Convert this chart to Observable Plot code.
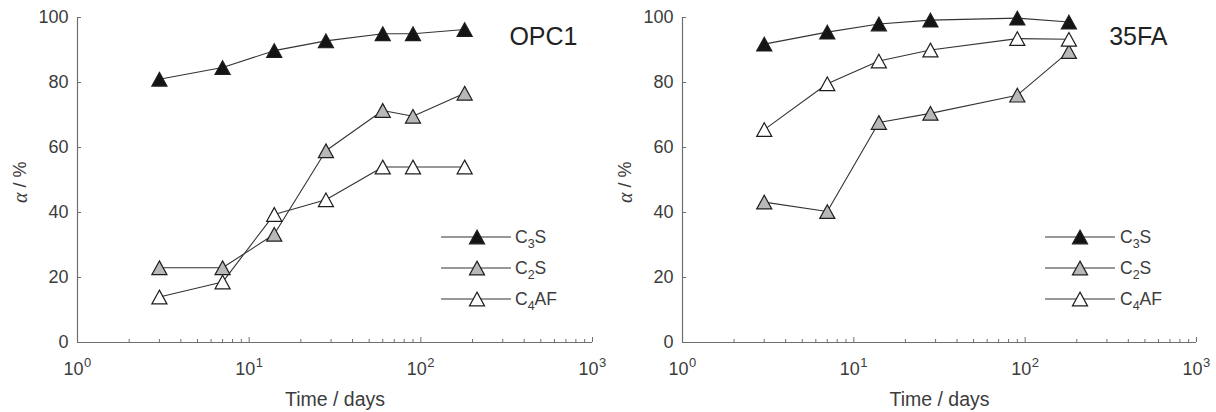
<!DOCTYPE html>
<html>
<head>
<meta charset="utf-8">
<script src="https://cdn.jsdelivr.net/npm/d3@7"></script>
<script src="https://cdn.jsdelivr.net/npm/@observablehq/plot@0.6"></script>
<style>
  html, body { margin: 0; padding: 0; background: #fff; }
  #wrap { position: relative; width: 1216px; height: 412px; display: flex; overflow: hidden; }
  #wrap svg { display: block; }
  #legend { position: absolute; left: 0; top: 0; pointer-events: none; }
</style>
</head>
<body>
<div id="wrap"></div>
<script>
// ---------- data ----------
const phases = ["C3S", "C2S", "C4AF"];
const phaseSub = { C3S: ["C", "3", "S"], C2S: ["C", "2", "S"], C4AF: ["C", "4", "AF"] };

// OPC1 panel
const opcDays = [3, 7, 14, 28, 60, 90, 180];
const opcC3S  = [81.0, 84.6, 89.8, 92.8, 95.0, 95.0, 96.3];
const opcC2S  = [23.0, 23.0, 33.3, 59.0, 71.4, 69.6, 76.7];
const opcC4AF = [14.0, 18.6, 39.4, 43.9, 54.0, 54.0, 54.0];

// 35FA panel
const faDays  = [3, 7, 14, 28, 90, 180];
const faC3S   = [91.8, 95.5, 98.0, 99.2, 99.8, 98.6];
const faC2S   = [43.2, 40.3, 67.7, 70.5, 76.1, 89.5];
const faC4AF  = [65.5, 79.6, 86.6, 90.0, 93.5, 93.3];

// axes
const xMajor = [1, 10, 100, 1000];
const xMinor = [2,3,4,5,6,7,8,9,20,30,40,50,60,70,80,90,200,300,400,500,600,700,800,900];
const yTicks = [0, 20, 40, 60, 80, 100];
const xLabel = "Time / days";
const yLabelGreek = "α";
const yLabelRest = " / %";

// ---------- style ----------
const fills = { C3S: "#141414", C2S: "#b8b8b8", C4AF: "#ffffff" };
const axisCol = "#6e6e6e";
const textCol = "#3c3c3c";
const lineCol = "#333333";
const markR = 5.8;
const font = "'Liberation Sans', Arial, Helvetica, sans-serif";

// triangle symbol centred on its bounding box
const tri = {
  draw(ctx, size) {
    const r = Math.sqrt(size / Math.PI);
    const w = 1.3 * r, h = 1.18 * r;
    ctx.moveTo(0, -h); ctx.lineTo(w, h); ctx.lineTo(-w, h); ctx.closePath();
  }
};

function rowsOf(days, series) {
  return phases.flatMap(p => days.map((d, i) => ({ day: d, value: series[p][i], phase: p })));
}

function panel({ rows, width, marginLeft, marginRight, name, nameDx }) {
  const seriesMarks = phases.flatMap(p => {
    const sub = rows.filter(r => r.phase === p);
    return [
      Plot.line(sub, { x: "day", y: "value", stroke: lineCol, strokeWidth: 1.1 }),
    ];
  });
  const dotMarks = phases.map(p =>
    Plot.dot(rows.filter(r => r.phase === p), {
      x: "day", y: "value", symbol: tri, r: markR,
      fill: fills[p], stroke: "#1e1e1e", strokeWidth: 1.2
    })
  );
  return Plot.plot({
    width, height: 412,
    marginTop: 17, marginBottom: 70, marginLeft, marginRight,
    style: { fontFamily: font, fontSize: "18px", color: textCol, background: "transparent", overflow: "visible" },
    x: { type: "log", domain: [1, 1000] },
    y: { domain: [0, 100] },
    marks: [
      Plot.ruleX([1], { stroke: axisCol, strokeWidth: 1.2 }),
      Plot.ruleY([0], { stroke: axisCol, strokeWidth: 1.2 }),
      Plot.axisX({ ticks: xMinor, tickSize: -3, tickFormat: () => "", stroke: axisCol, label: null }),
      Plot.axisX({ ticks: xMajor, tickSize: -5, tickFormat: () => "", stroke: axisCol, label: null }),
      Plot.axisY({ ticks: yTicks, tickSize: -4, tickFormat: () => "", stroke: axisCol, label: null }),
      Plot.axisY({ ticks: yTicks, tickSize: 0, tickPadding: 9, label: null, fill: textCol }),
      // x tick labels 10^n
      Plot.text(xMajor, { x: d => d, frameAnchor: "bottom", text: () => "10", textAnchor: "end",
        lineAnchor: "top", dx: 6, dy: 20, fontSize: 18, fill: textCol }),
      Plot.text(xMajor, { x: d => d, frameAnchor: "bottom", text: d => String(Math.round(Math.log10(d))),
        textAnchor: "start", lineAnchor: "top", dx: 6.5, dy: 15, fontSize: 13, fill: textCol }),
      // axis labels
      Plot.text([xLabel], { text: d => d, frameAnchor: "bottom", lineAnchor: "top", dy: 50, fontSize: 19.5, fill: textCol }),
      Plot.text([yLabelGreek], { text: d => d, frameAnchor: "left", rotate: -90, textAnchor: "end",
        dx: -57, dy: 12.5, fontFamily: "'Liberation Serif', 'DejaVu Serif', serif", fontStyle: "italic", fontSize: 20, fill: textCol }),
      Plot.text([yLabelRest], { text: d => d, frameAnchor: "left", rotate: -90, textAnchor: "start",
        dx: -57, dy: 12.5, fontSize: 18, fill: textCol }),
      // panel name
      Plot.text([name], { text: d => d, frameAnchor: "top-right", textAnchor: "end", lineAnchor: "top",
        dx: nameDx, dy: 10, fontSize: 25, fill: "#222" }),
      ...seriesMarks,
      ...dotMarks
    ]
  });
}

const wrap = document.getElementById("wrap");
const left = panel({
  rows: rowsOf(opcDays, { C3S: opcC3S, C2S: opcC2S, C4AF: opcC4AF }),
  width: 605, marginLeft: 77, marginRight: 13, name: "OPC1", nameDx: -15
});
const right = panel({
  rows: rowsOf(faDays, { C3S: faC3S, C2S: faC2S, C4AF: faC4AF }),
  width: 611, marginLeft: 77, marginRight: 20, name: "35FA", nameDx: -29
});
wrap.appendChild(left);
wrap.appendChild(right);

// ---------- legends ----------
const lg = d3.select(wrap).append("svg").attr("id", "legend").attr("width", 1216).attr("height", 412);
const triPath = d3.symbol().type(tri).size(Math.PI * markR * markR)();
const legendSpecs = [ { x0: 441, x1: 511, xm: 477, xt: 515 }, { x0: 1045, x1: 1115, xm: 1080, xt: 1120 } ];
const rowY = [237, 268, 299];
legendSpecs.forEach(s => {
  phases.forEach((p, i) => {
    const g = lg.append("g").attr("transform", `translate(0,${rowY[i]})`);
    g.append("line").attr("x1", s.x0).attr("x2", s.x1).attr("y1", 0).attr("y2", 0)
      .attr("stroke", lineCol).attr("stroke-width", 1.1);
    g.append("path").attr("d", triPath).attr("transform", `translate(${s.xm},0)`)
      .attr("fill", fills[p]).attr("stroke", "#1e1e1e").attr("stroke-width", 1.2);
    const t = g.append("text").attr("x", s.xt).attr("y", 6.3)
      .attr("font-family", font).attr("font-size", 17.5).attr("fill", textCol);
    const [a, b, c] = phaseSub[p];
    t.append("tspan").text(a);
    t.append("tspan").attr("dy", 5).attr("font-size", 12.5).text(b);
    t.append("tspan").attr("dy", -5).text(c);
  });
});
</script>
</body>
</html>
